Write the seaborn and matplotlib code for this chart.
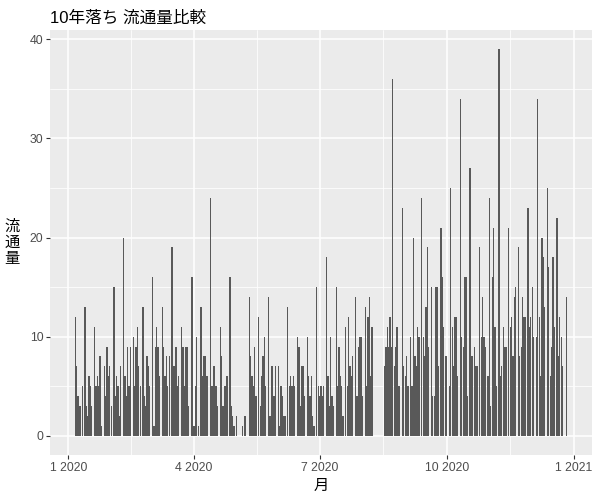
import pandas as pd
import numpy as np
import matplotlib
matplotlib.use("Agg")
import matplotlib.pyplot as plt
import seaborn as sns

# daily counts per month (2020), 0 = no record that day
jan = [0, 0, 0, 0, 0, 12, 7, 4, 3, 3, 5, 0, 13, 3, 2, 6, 5, 3, 0, 11, 5, 6, 5, 8, 1, 0, 7, 4, 9, 6, 7]
feb = [3, 0, 15, 4, 6, 5, 2, 7, 0, 20, 6, 4, 9, 5, 9, 0, 10, 5, 9, 11, 7, 5, 0, 13, 4, 3, 8, 7, 5]
mar = [0, 16, 1, 9, 11, 9, 6, 0, 13, 9, 6, 8, 5, 8, 0, 19, 7, 7, 9, 5, 6, 0, 11, 9, 5, 9, 9, 3, 0, 16, 16]
apr = [1, 5, 10, 1, 0, 13, 6, 8, 8, 6, 6, 0, 24, 5, 7, 7, 5, 3, 0, 11, 8, 3, 5, 5, 6, 0, 16, 3, 2, 1]
may = [0, 2, 0, 0, 0, 1, 0, 2, 0, 0, 14, 8, 6, 5, 9, 4, 0, 12, 3, 6, 8, 10, 5, 0, 14, 2, 7, 7, 4, 7, 0]
jun = [7, 1, 5, 4, 2, 2, 0, 13, 5, 6, 5, 6, 5, 0, 10, 9, 3, 7, 7, 4, 0, 10, 6, 4, 6, 2, 1, 0, 15, 5]
jul = [4, 5, 4, 5, 0, 18, 6, 3, 10, 4, 3, 0, 15, 5, 9, 6, 5, 2, 0, 11, 5, 12, 7, 6, 8, 0, 14, 4, 9, 10, 10]
aug = [4, 0, 13, 5, 12, 14, 6, 11, 0, 0, 0, 0, 0, 0, 0, 0, 7, 9, 11, 9, 12, 9, 36, 7, 9, 11, 5, 5, 0, 23, 7]
sep = [6, 8, 5, 0, 10, 5, 20, 8, 7, 11, 10, 0, 24, 10, 8, 13, 19, 9, 0, 15, 4, 4, 15, 15, 7, 0, 21, 16, 11, 8]
oct_ = [8, 0, 5, 25, 11, 7, 12, 12, 6, 0, 34, 10, 9, 16, 16, 4, 0, 27, 8, 8, 9, 7, 7, 0, 19, 10, 14, 10, 9, 0, 6]
nov = [24, 3, 16, 21, 11, 5, 0, 39, 6, 7, 11, 9, 9, 0, 21, 11, 12, 8, 14, 15, 0, 19, 8, 9, 14, 12, 12, 0, 23, 11]
dec = [12, 15, 10, 0, 10, 34, 12, 6, 20, 18, 13, 0, 25, 17, 6, 9, 18, 11, 0, 22, 8, 12, 10, 7, 0, 0, 14, 0, 0, 0, 0]

tick_dates = ["2020-01-01", "2020-04-01", "2020-07-01", "2020-10-01", "2021-01-01"]
tick_labels = ["1 2020", "4 2020", "7 2020", "10 2020", "1 2021"]

start = pd.Timestamp("2020-01-01")
counts = jan + feb + mar + apr + may + jun + jul + aug + sep + oct_ + nov + dec
dates = pd.date_range(start, periods=len(counts), freq="D")
df = pd.DataFrame({"date": dates, "count": counts})
df = df[df["count"] > 0].copy()
df["day"] = (df["date"] - start).dt.days

sns.set_theme(style="darkgrid", rc={
    "axes.facecolor": "#EBEBEB",
    "grid.color": "white",
    "xtick.bottom": True,
    "ytick.left": True,
})
plt.rcParams["font.family"] = ["Liberation Sans", "Noto Sans CJK JP", "DejaVu Sans"]

fig, ax = plt.subplots(figsize=(6, 5), dpi=100)
fig.subplots_adjust(left=50 / 600, right=592 / 600, top=1 - 30 / 500, bottom=1 - 455 / 500)

sns.barplot(data=df, x="day", y="count", native_scale=True, color="#595959",
            saturation=1, width=0.9, errorbar=None, linewidth=0, ax=ax)

# ggplot style expansion (5%)
lo = df["day"].min() - 0.45
hi = df["day"].max() + 0.45
pad = 0.05 * (hi - lo)
ax.set_xlim(lo - pad, hi + pad)
ymax = df["count"].max()
ax.set_ylim(-0.05 * ymax, ymax * 1.05)

tick_days = [(pd.Timestamp(d) - start).days for d in tick_dates]
minor_days = [(a + b) / 2 for a, b in zip(tick_days[:-1], tick_days[1:])]
ax.set_xticks(tick_days)
ax.set_xticklabels(tick_labels)
ax.set_xticks(minor_days, minor=True)
ax.set_yticks([0, 10, 20, 30, 40])
ax.set_yticks([5, 15, 25, 35], minor=True)

ax.grid(which="major", color="white", linewidth=1.1)
ax.grid(which="minor", color="white", linewidth=0.55)
ax.tick_params(which="minor", length=0)
ax.tick_params(which="major", length=2.7, width=0.8, color="#333333",
               labelsize=8.8, labelcolor="#4D4D4D", pad=2)
for s in ax.spines.values():
    s.set_visible(False)

ax.set_title("10年落ち 流通量比較", loc="left", fontsize=12, pad=5, color="black")
ax.set_xlabel("月", fontsize=11, color="black", labelpad=4)
ax.set_ylabel("流\n通\n量", rotation=0, fontsize=11, color="black",
              linespacing=1.2, va="center", ha="center")
ax.yaxis.set_label_coords(-0.07, 0.5)

plt.savefig("out.png", dpi=100)
